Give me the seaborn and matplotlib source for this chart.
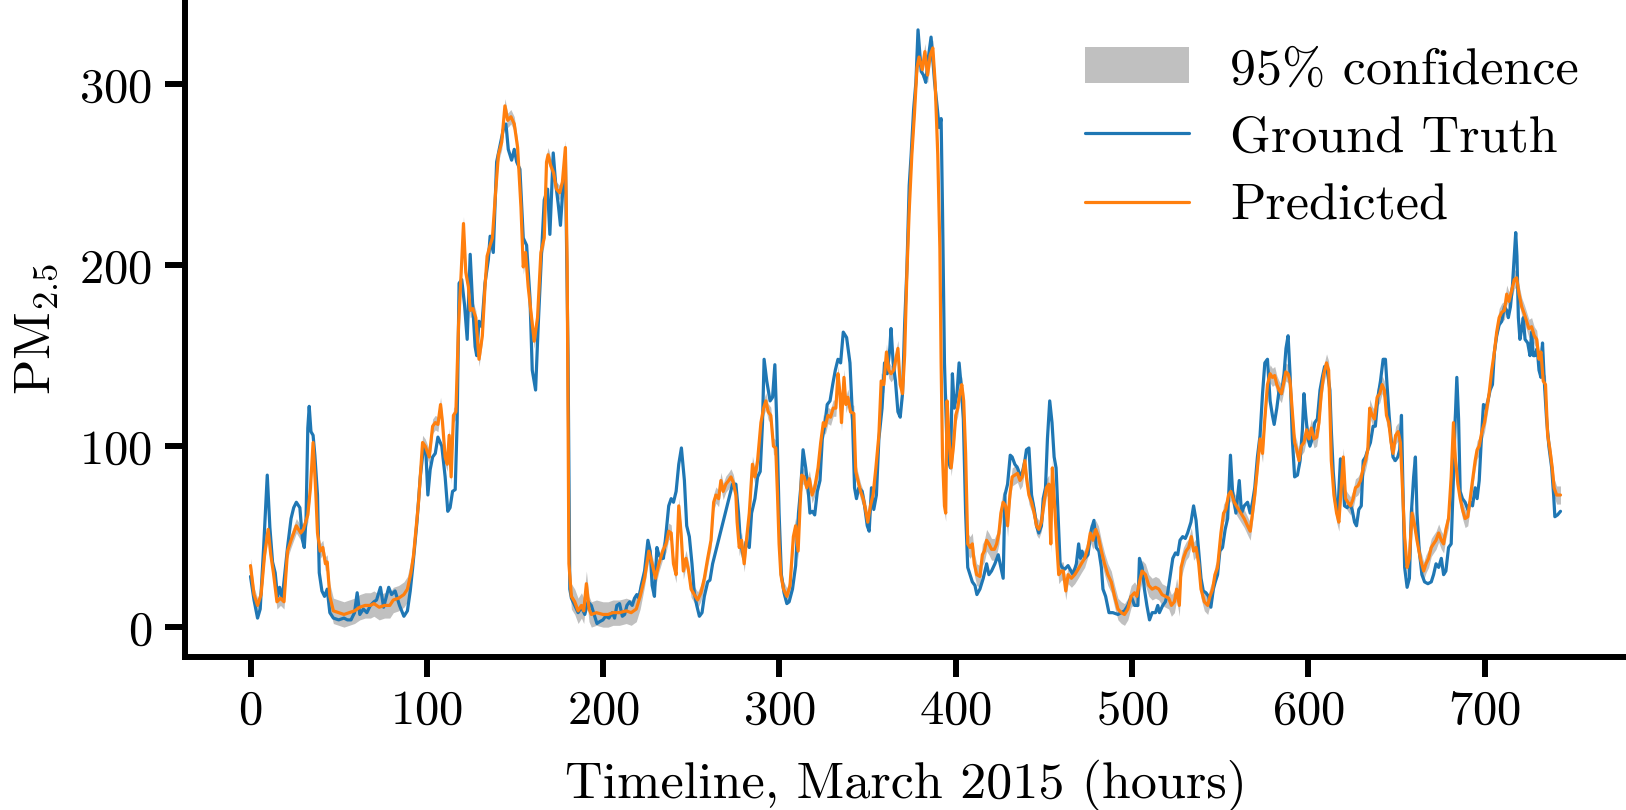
import numpy as np
import pandas as pd
import matplotlib
matplotlib.use("Agg")
import matplotlib.pyplot as plt
from matplotlib.patches import Patch
import seaborn as sns

# ---------------- data ----------------
gt_hours = [0, 2, 4, 5.5, 7.5, 9.5, 11, 12.5, 14, 15.3, 16.5, 18, 20, 21, 23, 24.5, 26, 28, 29.5, 30.5,
            31.5, 32.5, 33.3, 34.3, 35.5, 36.5, 38, 39, 40.5, 42, 43.5, 45, 47, 50, 53, 55, 57, 59, 60.5, 62,
            64, 66, 68, 70, 71.5, 73.7, 75.5, 78.4, 80, 82, 84.5, 87, 89, 90.6, 92, 94.4, 96.3, 98.2, 99.5, 100.6,
            101.9, 103.3, 104.8, 106.3, 108.5, 110.4, 111.9, 113.2, 114.6, 116.1, 117.2, 118.3, 119.8, 121.4, 122.9, 124.6, 125.9, 127.4, 128.3, 129.6,
            131.2, 133, 134.9, 135.9, 137.7, 139.6, 141.5, 143.4, 144.9, 146.2, 148.1, 149.6, 151, 152.8, 154.7, 156.6, 158.5, 159.8, 161.7, 163.2,
            165.1, 166.6, 168.5, 169.8, 171.7, 173, 174.5, 175.8, 177.3, 178.6, 180.1, 181.1, 182, 183.9, 185.8, 187.7, 189.6, 191.4, 193.3, 195.2,
            196.5, 198, 199.9, 201.4, 203.3, 205.2, 206.5, 207.8, 209.3, 210.9, 212.2, 213.5, 215, 216.5, 217.8, 219.1, 220.3, 221.6, 223.5, 225.4,
            226.7, 227.8, 229.1, 230.5, 231.6, 232.9, 234.2, 235.7, 237.2, 238.6, 239.9, 241.4, 242.9, 244.4, 246.1, 247.4, 248.9, 250.4, 251.7, 253.1,
            254.6, 256.1, 257.4, 259.3, 260.6, 262.1, 273.4, 275.3, 276.8, 277.8, 279.7, 281, 282.9, 284.2, 286.1, 287.6, 289.1, 290.4, 291.3, 292.8,
            294.7, 296.1, 297.4, 298.5, 299.8, 301.1, 302.6, 304.2, 305.5, 307.4, 309.2, 310.8, 312.1, 313.4, 314.9, 316.2, 317.3, 318.7, 320, 321.5,
            323, 324.3, 325.6, 327.1, 328.7, 330.2, 331.7, 333.2, 334.7, 336.2, 338.1, 340, 341.3, 342.6, 343.7, 345, 346.9, 348.3, 349.8, 350.9,
            352.2, 353.5, 355, 356.4, 358.2, 359.6, 361.1, 362.6, 363.3, 364.5, 365.8, 367.2, 368.5, 369.8, 371, 372.3, 373.6, 374.7, 376.1, 377.4,
            378.6, 380.4, 381.7, 383, 384.5, 386, 388, 389.4, 390.6, 391.7, 392.5, 393.6, 394.9, 395.9, 397, 398.1, 399.2, 400.7, 401.9, 403,
            404.3, 405.6, 406.8, 408.1, 409.4, 410.9, 412, 413.7, 415.6, 417.5, 418.8, 420.3, 422.2, 424.1, 425.6, 426.9, 427.9, 429.4, 430.9, 432,
            433.5, 435, 436.4, 437.7, 439.2, 440.1, 441.5, 443, 444.5, 445.8, 447.1, 448.6, 449.6, 450.9, 452, 453.3, 454.6, 455.8, 456.9, 458,
            459.2, 460.3, 461.8, 463.7, 466.5, 468.4, 469.7, 470.7, 471.6, 473.1, 475, 476.9, 478.4, 479.7, 481.2, 482.6, 483.5, 485, 486.9, 489.1,
            492, 493.9, 495.7, 497.6, 499.5, 501.4, 503.3, 504.2, 505.7, 507, 508.4, 509.9, 511.4, 513.3, 514.6, 515.5, 517.4, 518.9, 520.2, 521.6,
            523.1, 524.6, 525.9, 527.2, 528.7, 530.2, 531.5, 533.4, 534.9, 536.3, 537.8, 539.1, 540.4, 541.9, 543.4, 544.7, 546.1, 547.2, 548.5, 549.8,
            551.3, 552.8, 554.2, 555.8, 557, 558.9, 560.8, 562.1, 563.6, 565.5, 567, 568.3, 569.6, 571.1, 572.6, 574, 575.3, 576.8, 578.3, 579.6,
            580.6, 582.1, 583.4, 584.7, 586.2, 587.3, 588.5, 589.6, 590.9, 592.2, 593.8, 595.3, 596.6, 597.5, 598.5, 599.8, 600.9, 602.2, 603.6, 605.1,
            606.6, 607.9, 609.2, 610.7, 612.2, 613, 614.1, 615.4, 616.7, 618.2, 619.4, 620.5, 622, 623.5, 624.8, 626.2, 627.3, 628.6, 630, 631.1,
            632.4, 633.7, 635.2, 636.7, 638, 639.4, 640.9, 642.4, 643.7, 644.6, 645.8, 646.9, 648, 649.3, 650.7, 651.8, 652.8, 653.5, 654.6, 656,
            657.3, 658.4, 659.7, 660.7, 661.6, 662.9, 664.4, 665.9, 667.8, 669.7, 671, 672.4, 673.9, 675.4, 676.7, 678, 679.5, 681, 682.3, 683.3,
            684.2, 685.2, 686.1, 687.4, 688.9, 690.4, 691.8, 693.1, 694.6, 695.7, 696.9, 698, 699.3, 700.6, 701.8, 703.1, 704.4, 705.5, 706.8, 708.2,
            709.7, 711.2, 712.5, 713.4, 714.6, 715.7, 716.8, 717.6, 718.3, 719.1, 720, 721, 721.9, 722.9, 724.4, 725.7, 726.6, 727.6, 728.5, 729.8,
            730.8, 731.9, 732.8, 733.8, 735.1, 736.4, 738, 739.1, 739.8, 741.3, 743]
gt_values = [28, 15, 5, 10, 45, 84, 55, 36, 30, 17, 22, 16, 35, 44, 60, 66, 69, 66, 48, 44,
             60, 110, 122, 108, 106, 95, 73, 30, 20, 17, 21, 8, 5, 4, 5, 4, 4, 8, 19, 7,
             10, 8, 12, 14, 15, 22, 11, 22, 18, 20, 12, 6, 9, 20, 33, 58, 83, 100, 96, 73,
             87, 94, 96, 105, 100, 83, 64, 66, 75, 76, 113, 190, 192, 178, 159, 206, 180, 155, 150, 169,
             166, 190, 203, 216, 207, 257, 266, 275, 278, 264, 258, 264, 257, 253, 215, 211, 182, 142, 131, 167,
             207, 236, 242, 217, 262, 246, 234, 222, 244, 259, 150, 21, 16, 12, 8, 11, 7, 14, 12, 6,
             2, 3, 4, 6, 5, 8, 5, 12, 13, 6, 7, 12, 14, 12, 16, 18, 16, 23, 31, 48,
             42, 23, 17, 44, 40, 38, 38, 52, 67, 71, 69, 75, 90, 99, 81, 56, 50, 35, 19, 12,
             6, 8, 17, 25, 26, 35, 79, 79, 63, 48, 38, 47, 44, 63, 71, 83, 86, 113, 148, 136,
             125, 127, 145, 113, 63, 29, 19, 13, 14, 21, 34, 63, 77, 98, 88, 77, 63, 64, 62, 75,
             81, 104, 111, 123, 125, 134, 142, 148, 146, 163, 160, 146, 119, 77, 71, 77, 75, 67, 56, 53,
             77, 65, 73, 104, 121, 146, 140, 154, 165, 146, 136, 119, 116, 129, 167, 198, 244, 261, 286, 301,
             330, 307, 305, 301, 315, 326, 301, 288, 276, 281, 230, 146, 104, 92, 88, 140, 121, 129, 146, 134,
             115, 63, 33, 29, 25, 23, 18, 21, 27, 35, 29, 31, 35, 40, 33, 27, 73, 79, 95, 94,
             90, 88, 84, 85, 92, 98, 99, 73, 65, 56, 52, 56, 71, 77, 104, 125, 113, 94, 88, 63,
             35, 33, 32, 34, 29, 35, 46, 38, 42, 38, 40, 54, 59, 44, 42, 33, 21, 17, 8, 8,
             7, 8, 9, 12, 17, 12, 12, 38, 33, 21, 12, 4, 8, 8, 12, 8, 12, 14, 19, 28,
             38, 41, 40, 48, 50, 49, 52, 58, 67, 59, 42, 27, 20, 19, 17, 11, 21, 25, 29, 42,
             44, 54, 60, 95, 75, 63, 81, 63, 67, 69, 63, 69, 77, 94, 106, 129, 146, 148, 125, 117,
             112, 121, 131, 129, 140, 154, 161, 140, 104, 83, 84, 92, 109, 129, 117, 104, 100, 104, 113, 115,
             131, 138, 144, 142, 131, 109, 86, 69, 63, 93, 86, 67, 66, 68, 65, 58, 56, 65, 67, 92,
             94, 98, 102, 111, 111, 127, 136, 148, 148, 134, 117, 104, 94, 92, 94, 98, 117, 83, 33, 22,
             27, 63, 83, 94, 63, 42, 29, 25, 24, 25, 29, 35, 33, 38, 29, 31, 44, 46, 83, 115,
             138, 115, 75, 71, 69, 65, 69, 67, 77, 71, 81, 102, 123, 121, 125, 131, 134, 152, 161, 167,
             169, 177, 175, 171, 177, 188, 205, 218, 205, 171, 159, 165, 171, 159, 157, 150, 163, 150, 150, 154,
             142, 138, 157, 136, 115, 100, 88, 73, 61, 62, 64]

pred_hours = [0, 2, 4, 6, 8, 10, 11.5, 13, 15, 17, 19, 21, 23, 26, 28.5, 30, 32.5, 34, 35.5, 37,
              38, 39.5, 41, 42.5, 43.5, 45, 47, 50, 53, 56, 59, 62, 65, 68, 70, 73, 76, 79, 81, 84,
              87, 89, 91, 92.5, 95.3, 97.6, 99.1, 101.4, 103.3, 104.8, 106.3, 107.8, 108.9, 110.4, 111.6, 112.7, 113.8, 115.1, 116.5, 118,
              119.5, 120.8, 122.1, 123.6, 124.6, 126.1, 127.8, 129.6, 131.5, 133, 134.2, 135.9, 137.2, 138.7, 140.6, 142.5, 144.3, 145.9, 147.7, 149.6,
              151.5, 153.4, 154.7, 156, 157.5, 159.4, 160.9, 162.8, 164.7, 166.6, 167.9, 168.8, 170.3, 171.9, 173.5, 175.4, 176.9, 178.6, 179.6, 180.6,
              182, 183.9, 185.8, 187.7, 189, 190.5, 192, 193.3, 196.2, 199.9, 202.8, 205.6, 209.3, 213.1, 215.9, 218.8, 221, 223.5, 225.9, 227.8,
              229.7, 231.6, 233.8, 235.7, 237.2, 238.6, 239.9, 241.4, 242.9, 244.2, 245.5, 247, 248.5, 249.9, 251.7, 253.6, 255.5, 257.4, 259.3, 261.2,
              262.7, 264, 265.5, 266.8, 268.1, 269.6, 271.2, 272.5, 273.8, 275.3, 276, 277.2, 278.5, 280, 281.5, 282.9, 284.7, 286.1, 287.6, 289.5,
              291, 292.3, 293.6, 295.1, 296.6, 297.9, 298.9, 299.8, 300.8, 302.3, 304.2, 306, 307.9, 309.2, 310.6, 311.7, 312.6, 314, 315.5, 317,
              318.5, 320, 321.9, 323.4, 324.9, 326, 327.5, 329, 330.5, 332, 333.2, 334.3, 335.2, 336.6, 337.7, 338.8, 340.3, 342.2, 343.3, 344.5,
              346, 347.5, 348.8, 350.1, 351.6, 353.1, 354.7, 356.4, 357.7, 359.2, 360.7, 362, 363.3, 364.8, 367.2, 368.5, 369.8, 371, 372.3, 373.6,
              375.1, 376.6, 378, 379.2, 381, 382.5, 384, 385.5, 387, 388.3, 389.8, 391, 391.7, 392.5, 393.6, 394.3, 395.1, 396.2, 397.4, 398.7,
              400, 401.1, 402.3, 403.4, 404.5, 405.6, 406.8, 408.1, 409.4, 410.5, 411.9, 413.7, 415.1, 416.2, 417.5, 418.8, 420.3, 421.9, 423.2, 424.5,
              425.6, 426.9, 428.3, 429.4, 430.7, 432, 433.5, 435, 436.4, 437.7, 439.2, 440.3, 441.5, 443, 444.5, 445.8, 447.1, 448.6, 450.1, 451.4,
              452.8, 453.9, 454.8, 456.1, 457.3, 458.4, 459.9, 461, 462.4, 463.7, 465.6, 467.5, 469.4, 471.2, 473.1, 475, 476.3, 477.8, 479.4, 480.9,
              482.6, 484.4, 486.3, 488.2, 490.1, 492, 493.9, 495.7, 497.6, 499.5, 501.4, 502.7, 504.2, 505.7, 507.6, 509.5, 511.4, 513.3, 515.2, 517,
              518.9, 520.8, 522.3, 524, 525.3, 526.8, 527.8, 529.1, 530.6, 532.1, 533.6, 534.9, 536.3, 537.8, 539.1, 541, 542.9, 544.2, 545.7, 547,
              548.5, 550.4, 551.9, 553.2, 554.7, 556, 558, 559.8, 561.7, 563.6, 565.5, 567, 568.3, 569.6, 571.1, 572.6, 574, 575.3, 576.8, 578.3,
              579.6, 580.9, 582.1, 583.4, 584.7, 585.8, 587.2, 588.5, 589.6, 590.9, 592.2, 593.4, 594.7, 596, 597.5, 599, 600.3, 601.7, 603.2, 604.7,
              606, 607.3, 608.8, 610.3, 611.5, 612.2, 613, 614.5, 616, 617.3, 618.6, 619.8, 621.1, 622.4, 623.9, 625.4, 626.7, 628.1, 629.6, 631.1,
              632.4, 633.7, 634.8, 636.2, 637.5, 639, 640.5, 641.8, 643.1, 644.3, 645.6, 646.9, 648, 649.5, 650.9, 652.2, 653.1, 654.6, 656, 657.3,
              658.8, 660.3, 661.6, 663.5, 665.4, 666.7, 668.2, 669.7, 671, 672.4, 673.9, 675.4, 676.7, 678, 679.5, 681, 682.3, 683.3, 684.8, 686.1,
              687.4, 688.9, 690.4, 691.8, 693.1, 694.6, 695.7, 696.9, 698.4, 699.9, 701.2, 702.5, 704, 705.5, 706.8, 708.2, 709.7, 711.2, 712.5, 713.8,
              715.3, 716.8, 718.1, 719.5, 721, 722.5, 723.8, 725.1, 726.6, 728.1, 729.5, 730.8, 731.9, 733.2, 734.5, 735.7, 737, 738.3, 739.4, 740.8,
              743]
pred_values = [34, 18, 12, 18, 40, 54, 40, 30, 14, 16, 14, 42, 48, 56, 52, 54, 62, 77, 102, 75,
               52, 42, 44, 35, 36, 17, 9, 8, 7, 8, 9, 11, 12, 12, 13, 11, 12, 12, 15, 16,
               18, 21, 30, 40, 69, 102, 100, 94, 111, 113, 112, 123, 113, 94, 90, 106, 83, 117, 119, 167,
               196, 223, 196, 188, 175, 176, 171, 148, 161, 188, 205, 211, 215, 236, 261, 268, 288, 280, 282, 278,
               265, 232, 199, 207, 188, 171, 158, 171, 207, 215, 257, 261, 255, 251, 242, 240, 246, 265, 200, 35,
               17, 14, 9, 12, 9, 24, 10, 7, 8, 7, 7, 8, 8, 9, 8, 10, 17, 27, 42, 35,
               27, 35, 42, 46, 53, 52, 35, 29, 67, 52, 31, 38, 31, 21, 18, 15, 19, 27, 38, 48,
               69, 73, 71, 81, 75, 79, 81, 83, 80, 73, 58, 44, 48, 35, 50, 63, 90, 83, 92, 113,
               121, 125, 119, 117, 100, 99, 73, 46, 29, 21, 17, 23, 50, 56, 42, 67, 84, 83, 77, 82,
               73, 77, 88, 102, 113, 111, 117, 116, 121, 121, 140, 129, 113, 138, 123, 127, 119, 118, 86, 81,
               75, 71, 65, 58, 67, 73, 88, 106, 136, 134, 152, 142, 140, 142, 154, 134, 129, 150, 196, 230,
               261, 284, 309, 315, 308, 318, 305, 316, 320, 301, 261, 209, 146, 94, 67, 63, 125, 104, 88, 100,
               117, 121, 129, 134, 125, 96, 46, 44, 46, 35, 29, 28, 40, 42, 48, 46, 43, 43, 46, 52,
               63, 69, 67, 56, 73, 83, 84, 85, 81, 83, 92, 81, 73, 69, 63, 56, 54, 58, 69, 77,
               79, 46, 88, 67, 46, 29, 31, 31, 20, 29, 27, 29, 32, 35, 38, 44, 52, 48, 54, 50,
               42, 35, 29, 25, 17, 10, 8, 7, 10, 17, 19, 17, 25, 31, 29, 23, 21, 22, 21, 18,
               17, 16, 12, 14, 21, 12, 33, 38, 42, 44, 50, 42, 44, 35, 21, 14, 12, 17, 21, 29,
               33, 52, 63, 65, 73, 75, 69, 66, 63, 60, 56, 53, 63, 73, 88, 104, 96, 115, 134, 140,
               138, 139, 134, 131, 129, 134, 141, 140, 136, 119, 102, 98, 92, 100, 102, 109, 104, 110, 104, 105,
               113, 129, 140, 146, 142, 121, 92, 73, 63, 58, 77, 94, 71, 69, 67, 71, 77, 78, 81, 88,
               92, 98, 121, 117, 115, 127, 129, 134, 131, 117, 113, 102, 96, 106, 108, 102, 83, 50, 33, 38,
               63, 56, 48, 38, 31, 35, 38, 44, 46, 48, 52, 48, 46, 54, 60, 83, 113, 94, 79, 71,
               65, 60, 61, 71, 81, 92, 98, 100, 108, 113, 121, 129, 142, 152, 163, 171, 174, 175, 184, 180,
               186, 192, 193, 184, 177, 173, 169, 165, 166, 161, 159, 148, 152, 136, 134, 106, 98, 88, 77, 73,
               73]

# 95 % band half-width, read per stretch of the timeline (hours where a stretch starts)
band_starts = [0, 45, 92, 180, 222, 405, 430, 480, 530, 650]
band_halfwidth = [4, 7, 4, 7, 4.5, 6, 5, 6, 5, 5]

x_ticks = [0, 100, 200, 300, 400, 500, 600, 700]
y_ticks = [0, 100, 200, 300]
x_label = "Timeline, March 2015 (hours)"
y_label = r"$\mathrm{PM}_{2.5}$"
labels = ["95% confidence", "Ground Truth", "Predicted"]

# ---------------- styling ----------------
sns.set_theme(style="ticks")
plt.rcParams["font.family"] = ["cmr10", "DejaVu Serif"]
plt.rcParams["mathtext.fontset"] = "cm"
plt.rcParams["axes.formatter.use_mathtext"] = True
plt.rcParams["axes.unicode_minus"] = False
for key in ["text.color", "axes.labelcolor", "xtick.color", "ytick.color",
            "xtick.labelcolor", "ytick.labelcolor", "axes.edgecolor"]:
    plt.rcParams[key] = "black"

FS_TICK = 35
FS_TEXT = 37.5
LW = 2.3
BLUE = "#1f77b4"
ORANGE = "#ff7f0e"
GREY = "#c0c0c0"

gt = pd.DataFrame({"hour": gt_hours, "pm": gt_values})
pred = pd.DataFrame({"hour": pred_hours, "pm": pred_values})
seg = np.searchsorted(band_starts, pred["hour"].to_numpy(), side="right") - 1
hw = np.asarray(band_halfwidth)[seg]
pred["lo"] = pred["pm"] - hw
pred["hi"] = pred["pm"] + hw

fig = plt.figure(figsize=(16.26, 8.10), dpi=100)
ax = fig.add_axes([185 / 1626, 1 - 657 / 810, 1441 / 1626, 657 / 810])

ax.fill_between(pred["hour"], pred["lo"], pred["hi"], color=GREY, lw=0, zorder=1)
sns.lineplot(data=gt, x="hour", y="pm", ax=ax, color=BLUE, lw=LW, estimator=None, zorder=2)
sns.lineplot(data=pred, x="hour", y="pm", ax=ax, color=ORANGE, lw=LW, estimator=None, zorder=3)

ax.set_xticks(x_ticks)
ax.set_yticks(y_ticks)
ax.set_xlabel(x_label, fontsize=FS_TEXT, labelpad=18)
ax.set_ylabel(y_label, fontsize=FS_TEXT, labelpad=14)
ax.tick_params(axis="both", labelsize=FS_TICK, width=4.3, length=14.5, pad=9, color="black",
               labelcolor="black")
for side in ["top", "right"]:
    ax.spines[side].set_visible(False)
for side in ["left", "bottom"]:
    ax.spines[side].set_linewidth(4.3)
    ax.spines[side].set_color("black")

handles = [Patch(facecolor=GREY, edgecolor="none"),
           plt.Line2D([], [], color=BLUE, lw=LW),
           plt.Line2D([], [], color=ORANGE, lw=LW)]
ax.legend(handles, labels, loc="upper right", frameon=False, fontsize=FS_TEXT, labelspacing=0.42)

fig.savefig("out.png", dpi=100)
